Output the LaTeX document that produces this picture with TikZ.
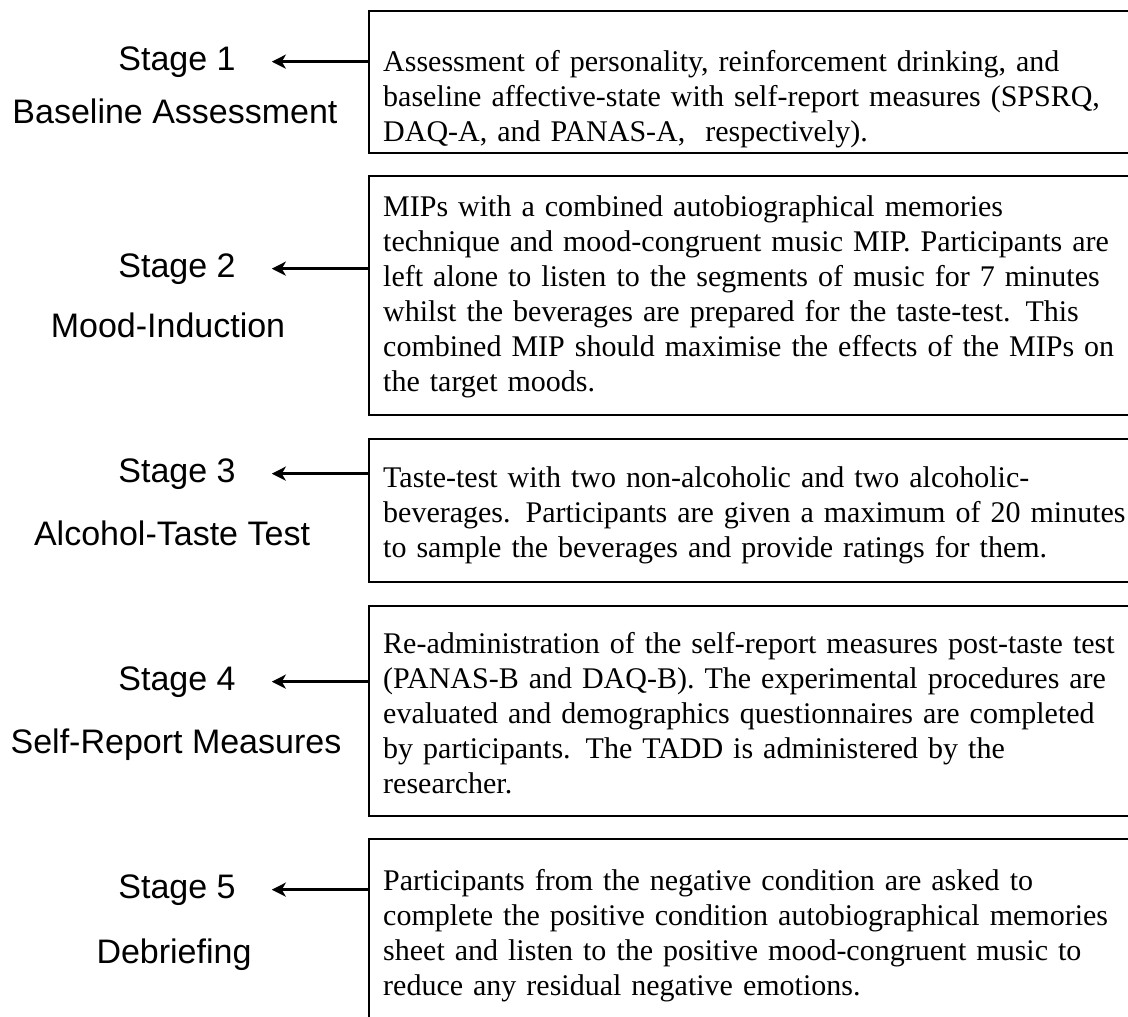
\documentclass[tikz,border=0pt]{standalone}
\usepackage{fontspec}
\setmainfont{Liberation Serif}
\newfontfamily\stagefont{Liberation Sans}
\usetikzlibrary{arrows.meta,positioning}

\begin{document}
\begin{tikzpicture}[x=1pt,y=-1pt,
  stage/.style={font=\stagefont\fontsize{34}{40}\selectfont,inner sep=0pt,anchor=base},
  stagebox/.style={draw,line width=1.6pt,anchor=north west,minimum width=800pt,inner sep=0pt},
  desc/.style={anchor=north west,inner sep=0pt,text width=820pt,align=left,font=\fontsize{30}{35}\selectfont},
  back/.style={line width=2.6pt,-{Stealth[length=14pt,width=14pt,inset=4pt]},shorten >=36pt}]
\useasboundingbox (0,0) rectangle (1128,1017);
% boxes
\node[stagebox,minimum height=142pt] (box1) at (368,10) {};
\node[stagebox,minimum height=239pt] (box2) at (368,175) {};
\node[stagebox,minimum height=143pt] (box3) at (368,438) {};
\node[stagebox,minimum height=210pt] (box4) at (368,605) {};
\node[stagebox,minimum height=200pt] (box5) at (368,838) {};
% texts
\node[desc] (txt1) at (383,50) {Assessment of personality, reinforcement drinking, and\\
baseline affective-state with self-report measures (SPSRQ,\\
DAQ-A, and PANAS-A,\ \ respectively).};
\node[desc] (txt2) at (383,195) {MIPs with a combined autobiographical memories\\
technique and mood-congruent music MIP. Participants are\\
left alone to listen to the segments of music for 7 minutes\\
whilst the beverages are prepared for the taste-test. This\\
combined MIP should maximise the effects of the MIPs on\\
the target moods.};
\node[desc] (txt3) at (383,466) {Taste-test with two non-alcoholic and two alcoholic-\\
beverages. Participants are given a maximum of 20 minutes\\
to sample the beverages and provide ratings for them.};
\node[desc] (txt4) at (383,632) {Re-administration of the self-report measures post-taste test\\
(PANAS-B and DAQ-B). The experimental procedures are\\
evaluated and demographics questionnaires are completed\\
by participants. The TADD is administered by the\\
researcher.};
\node[desc] (txt5) at (383,869) {Participants from the negative condition are asked to\\
complete the positive condition autobiographical memories\\
sheet and listen to the positive mood-congruent music to\\
reduce any residual negative emotions.};
% stages
\node[stage] (s1) at (177,70) {Stage 1};
\node[stage] (t1) at (175,123) {Baseline Assessment};
\node[stage] (s2) at (177,277) {Stage 2};
\node[stage] (t2) at (168,337) {Mood-Induction};
\node[stage] (s3) at (177,482) {Stage 3};
\node[stage] (t3) at (172,545) {Alcohol-Taste Test};
\node[stage] (s4) at (177,690) {Stage 4};
\node[stage] (t4) at (176,753) {Self-Report Measures};
\node[stage] (s5) at (177,898) {Stage 5};
\node[stage] (t5) at (174,963) {Debriefing};
% arrows
\draw[back] (s1.east -| box1.west) -- (s1.east);
\draw[back] (s2.east -| box2.west) -- (s2.east);
\draw[back] (s3.east -| box3.west) -- (s3.east);
\draw[back] (s4.east -| box4.west) -- (s4.east);
\draw[back] (s5.east -| box5.west) -- (s5.east);
\end{tikzpicture}
\end{document}
